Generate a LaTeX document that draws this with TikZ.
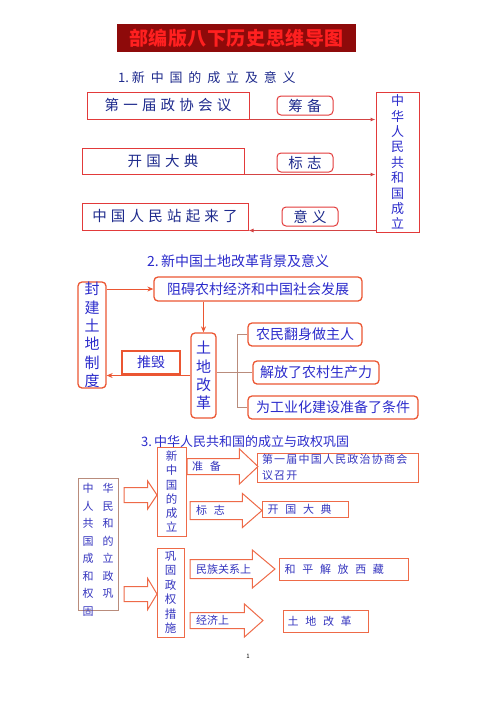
\documentclass[tikz,border=0pt]{standalone}
\usepackage{fontspec}
\setmainfont{Noto Sans CJK SC}
\newfontfamily\widefont[WordSpace=2.7]{Noto Sans CJK SC}
\usepackage{xcolor}
\usetikzlibrary{arrows.meta,calc,shapes.arrows}

\definecolor{titlebg}{HTML}{8E0A0A}
\definecolor{titlefg}{HTML}{FF2020}
\definecolor{navy}{HTML}{1E2A8C}
\definecolor{redline}{HTML}{E23A3A}
\definecolor{orangeline}{HTML}{EB5632}
\definecolor{blueA}{HTML}{2B2BCB}
\definecolor{blueB}{HTML}{3434BE}
\definecolor{brownline}{HTML}{B98C7C}
\definecolor{arrline}{HTML}{EE6A48}

\begin{document}
\begin{tikzpicture}[x=1pt,y=-1pt,
  box1/.style={draw=redline, line width=1pt, text=navy, inner sep=0pt,
    font=\fontsize{14.5}{17}\selectfont\addfontfeature{LetterSpace=29}},
  tag1/.style={box1, rounded corners=4pt},
  arr1/.style={draw=redline!85!gray, line width=1pt, -{Latex[length=5pt,width=4pt]}},
  box2/.style={draw=orangeline, line width=1.3pt, rounded corners=4pt, text=blueA,
    inner sep=0pt, font=\fontsize{14}{17}\selectfont},
  arr2/.style={draw=orangeline, line width=1pt, -{Stealth[length=6pt,width=5pt]}},
  brk/.style={draw=brownline, line width=1pt},
  box3/.style={draw=arrline, line width=1pt, text=blueB, inner sep=0pt,
    font=\fontsize{11}{14}\selectfont},
  txt3/.style={text=blueB, inner sep=0pt, font=\fontsize{11}{14}\selectfont},
  spaced/.style={font=\widefont\fontsize{11}{14}\selectfont},
  blockarr/.style={single arrow, draw=arrline, line width=1pt, fill=white,
    inner xsep=0pt, outer sep=0pt, anchor=tail}
]
\useasboundingbox (0,0) rectangle (496,702);

% title
\node[fill=titlebg, text=titlefg, minimum width=239pt, minimum height=28pt, inner sep=0pt,
  font=\fontsize{19}{22}\bfseries\selectfont\addfontfeature{LetterSpace=3}] (title) at (236.5,38) {部编版八下历史思维导图};

% 1. founding of the PRC
\node[anchor=west, inner sep=0pt, text=navy,
  font=\fontsize{13}{16}\selectfont] (head1) at (118,78) {1.\ {\addfontfeature{LetterSpace=45}新中国的成立及意义}};

\node[box1, minimum width=162pt, minimum height=27pt] (zhengxie) at (168,105.5) {第一届政协会议};
\node[tag1, minimum width=56pt, minimum height=19pt] (choubei) at (305,105.5) {筹备};
\node[box1, minimum width=162pt, minimum height=26pt] (kaiguo) at (163,161) {开国大典};
\node[tag1, minimum width=56pt, minimum height=19pt] (biaozhi) at (305,162.5) {标志};
\node[box1, minimum width=166pt, minimum height=27pt] (zhanqilai) at (165,216.5) {中国人民站起来了};
\node[tag1, minimum width=56pt, minimum height=19pt] (yiyi) at (310,216.5) {意义};
\node[box1, minimum width=43pt, minimum height=140pt, align=center, text=blueA,
  font=\fontsize{13}{15.4}\selectfont] (chengli) at (397.5,162)
  {中\\华\\人\\民\\共\\和\\国\\成\\立};

\draw[arr1] (zhengxie.south east) -- (zhengxie.south east -| chengli.west);
\draw[arr1] (kaiguo.south east) -- (kaiguo.south east -| chengli.west);
\draw[arr1] (chengli.west |- zhanqilai.south) -- (zhanqilai.south east);

% 2. land reform
\node[anchor=west, inner sep=0pt, text=blueA,
  font=\fontsize{14}{17}\selectfont] (head2) at (147,261) {2.\,新中国土地改革背景及意义};

\node[box2, minimum width=28pt, minimum height=106pt, align=center,
  font=\fontsize{15}{18.4}\selectfont] (fengjian) at (92,335) {封\\建\\土\\地\\制\\度};
\node[box2, minimum width=208pt, minimum height=24pt] (zuai) at (258,289) {阻碍农村经济和中国社会发展};
\node[box2, minimum width=25pt, minimum height=85pt, align=center,
  font=\fontsize{15}{18.3}\selectfont] (tudi) at (203.5,375.5) {土\\地\\改\\革};
\node[box2, rounded corners=0pt, line width=1.5pt, minimum width=58pt, minimum height=23pt] (cuihui) at (151,362.5) {推毁};
\node[box2, minimum width=114pt, minimum height=23pt] (nongmin) at (305,334.5) {农民翻身做主人};
\node[box2, minimum width=126pt, minimum height=23pt] (jiefang) at (316,372.5) {解放了农村生产力};
\node[box2, minimum width=170pt, minimum height=23pt] (gongye) at (333,407.5) {为工业化建设准备了条件};

\draw[arr2] (fengjian.east |- zuai.west) -- (zuai.west);
\draw[arr2] (zuai.south -| tudi.north) -- (tudi.north);
\draw[arr2] (tudi.west) -- (tudi.west -| fengjian.east);

\coordinate (fork) at (237,372.5);
\draw[brk] (nongmin.west) -| (fork |- gongye.west) -- (gongye.west);
\draw[brk] (tudi.east |- jiefang.west) -- (jiefang.west);

% 3. founding and consolidation
\node[anchor=west, inner sep=0pt, text=blueA,
  font=\fontsize{13}{16}\selectfont] (head3) at (141,442) {3.\,中华人民共和国的成立与政权巩固};

\node[box3, draw=brownline, minimum width=40pt, minimum height=132pt] (zhbox) at (98,544) {};
\node[txt3, align=left, anchor=north west, font=\fontsize{11}{17.5}\selectfont] (zhtext) at (82.5,483.5)
  {中\hspace{9pt}华\\人\hspace{9pt}民\\共\hspace{9pt}和\\国\hspace{9pt}的\\成\hspace{9pt}立\\和\hspace{9pt}政\\权\hspace{9pt}巩\\固};

\node[box3, minimum width=29pt, minimum height=89pt, align=center,
  font=\fontsize{11.5}{14.2}\selectfont] (xinzg) at (171.5,491.5) {新\\中\\国\\的\\成\\立};
\node[box3, minimum width=27pt, minimum height=89pt, align=center,
  font=\fontsize{11.5}{14.4}\selectfont] (gonggu) at (170.5,592.5) {巩\\固\\政\\权\\措\\施};

\node[box3, minimum width=157pt, minimum height=29pt, align=left, text width=151pt, inner xsep=5pt,
  font=\fontsize{11}{16}\selectfont\addfontfeature{LetterSpace=11}] (diyijie) at (337.5,467.5)
  {第一届中国人民政治协商会\\议召开};
\node[box3, minimum width=86pt, minimum height=16pt] (kaiguob) at (305,509) {};
\node[box3, minimum width=129pt, minimum height=22pt] (heping) at (343.5,569) {};
\node[box3, minimum width=85pt, minimum height=22pt] (tudib) at (325.5,621) {};
\node[txt3, spaced, anchor=west] (lbKaiguo) at ([xshift=6pt]kaiguob.west) {开 国 大 典};
\node[txt3, spaced, anchor=west] (lbHeping) at ([xshift=6pt]heping.west) {和 平 解 放 西 藏};
\node[txt3, spaced, anchor=west] (lbTudi) at ([xshift=5pt]tudib.west) {土 地 改 革};

% block arrows
\node[blockarr, inner ysep=7pt, single arrow head extend=6.5pt, single arrow tip angle=112.6,
  minimum height=33pt] (arrA) at (124,495) {};
\node[blockarr, inner ysep=7pt, single arrow head extend=8pt, single arrow tip angle=118,
  minimum height=33pt] (arrB) at (124,594) {};
\node[blockarr, inner ysep=7.5pt, single arrow head extend=9.5pt, single arrow tip angle=86.7,
  minimum height=71pt] (arrZhunbei) at (187,466.5) {};
\node[blockarr, inner ysep=8.5pt, single arrow head extend=8pt, single arrow tip angle=82,
  minimum height=72pt] (arrBiaozhi) at (190,510.5) {};
\node[blockarr, inner ysep=9pt, single arrow head extend=9.5pt, single arrow tip angle=80,
  minimum height=85pt] (arrMinzu) at (190,569) {};
\node[blockarr, inner ysep=7.5pt, single arrow head extend=8.5pt, single arrow tip angle=83.3,
  minimum height=73pt] (arrJingji) at (190,620.5) {};

\node[txt3, spaced, anchor=west] (lbZhunbei) at ([xshift=5pt]arrZhunbei.tail) {准 备};
\node[txt3, spaced, anchor=west] (lbBiaozhi) at ([xshift=6pt]arrBiaozhi.tail) {标 志};
\node[txt3, anchor=west] (lbMinzu) at ([xshift=6pt]arrMinzu.tail) {民族关系上};
\node[txt3, anchor=west] (lbJingji) at ([xshift=6pt]arrJingji.tail) {经济上};

% page number
\node[inner sep=0pt, font=\fontsize{6}{7}\selectfont] (pageno) at (248,656) {1};
\end{tikzpicture}
\end{document}
